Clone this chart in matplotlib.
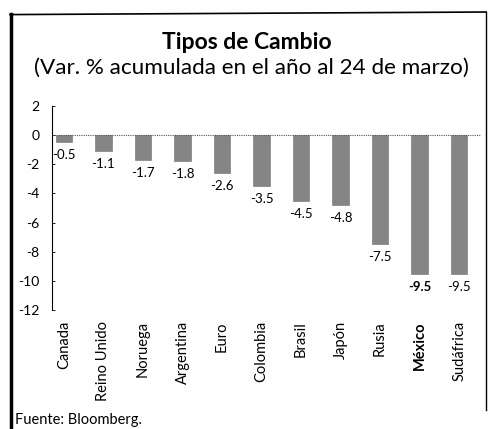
import matplotlib
matplotlib.use("Agg")
import matplotlib.pyplot as plt
from matplotlib.lines import Line2D

paises = ['Canada', 'Reino Unido', 'Noruega', 'Argentina', 'Euro', 'Colombia',
          'Brasil', 'Japón', 'Rusia', 'México', 'Sudáfrica']
variacion = [-0.5, -1.1, -1.7, -1.8, -2.6, -3.5, -4.5, -4.8, -7.5, -9.5, -9.5]
yticks = [2, 0, -2, -4, -6, -8, -10, -12]
destacado = 'México'

plt.rcParams['font.family'] = ['Lato', 'DejaVu Sans']

fig = plt.figure(figsize=(4.93, 4.29), dpi=100)
ax = fig.add_axes([0.1055, 0.2774, 0.87, 0.4755])

x = list(range(len(paises)))
ax.bar(x, variacion, width=0.42, color='#858585', edgecolor='#707070', linewidth=0.4)

for xi, v, p in zip(x, variacion, paises):
    ax.annotate(f'{v:.1f}', (xi, v), xytext=(0, -5), textcoords='offset points',
                ha='center', va='top', fontsize=9.5,
                fontweight='bold' if p == destacado else 'normal')

ax.axhline(0, color='#555555', lw=0.8, ls=(0, (1, 1)))

ax.set_xlim(-0.3, 10.55)
ax.set_ylim(-12, 2)
ax.set_yticks(yticks)
ax.set_yticklabels([str(t) for t in yticks], fontsize=10)
ax.set_xticks(x)
ax.set_xticklabels(paises, rotation=90, fontsize=10.5, va='top')
for lbl in ax.get_xticklabels():
    if lbl.get_text() == destacado:
        lbl.set_fontweight('bold')

for s in ['top', 'right', 'bottom']:
    ax.spines[s].set_visible(False)
ax.spines['left'].set_linewidth(0.8)
ax.tick_params(axis='y', length=2, width=0.6, pad=9, direction='in')
ax.tick_params(axis='x', length=0, pad=8)

fig.text(0.5, 0.902, 'Tipos de Cambio', ha='center', va='center',
         fontsize=16.5, fontweight='bold')
fig.text(0.51, 0.842, '(Var. % acumulada en el año al 24 de marzo)', ha='center',
         va='center', fontsize=16.2)
fig.text(0.03, 0.022, 'Fuente: Bloomberg.', ha='left', va='center', fontsize=10.5)

# marco
fig.add_artist(Line2D([0.022, 0.022], [0.0, 0.968], transform=fig.transFigure,
                      color='black', lw=2.5))
fig.add_artist(Line2D([0.02, 0.986], [0.966, 0.972], transform=fig.transFigure,
                      color='black', lw=1.2))
fig.add_artist(Line2D([0.985, 0.985], [0.045, 0.972], transform=fig.transFigure,
                      color='black', lw=1.0))

fig.savefig('out.png', dpi=100)
